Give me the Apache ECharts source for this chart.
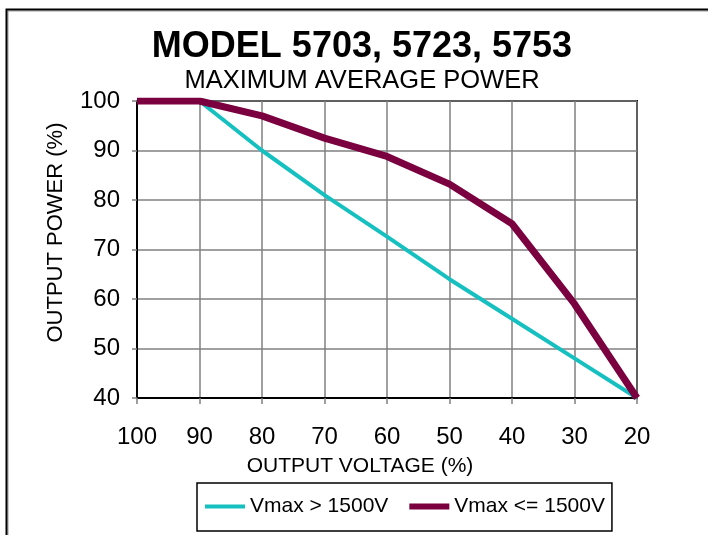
<!DOCTYPE html>
<html>
<head>
<meta charset="utf-8">
<script src="https://cdn.jsdelivr.net/npm/echarts@6/dist/echarts.min.js"></script>
<style>
  html, body { margin: 0; padding: 0; background: #fff; }
  #chart { width: 708px; height: 535px; }
</style>
</head>
<body>
<div id="chart"></div>
<script>
// output voltage (%) ticks, left to right
const voltageTicks = [100, 90, 80, 70, 60, 50, 40, 30, 20];
// Vmax > 1500V
const powerHigh = [100, 100, 90, 81, 72.6, 64, 56, 48, 40];
// Vmax <= 1500V
const powerLow = [100, 100, 97, 92.5, 88.8, 83.2, 75.2, 59, 40];

const seriesNames = ['Vmax > 1500V', 'Vmax <= 1500V'];
const font = 'Liberation Sans, Arial, sans-serif';

const chart = echarts.init(document.getElementById('chart'), null, { renderer: 'canvas' });

const pair = (vals) => voltageTicks.map((v, i) => [v, vals[i]]);

const option = {
  backgroundColor: '#fff',
  animation: false,
  title: {
    text: 'MODEL 5703, 5723, 5753',
    subtext: 'MAXIMUM AVERAGE POWER',
    left: 357,
    top: 24,
    textAlign: 'center',
    itemGap: 3,
    textStyle: { fontFamily: font, fontSize: 36, fontWeight: 'bold', color: '#000' },
    subtextStyle: { fontFamily: font, fontSize: 25.5, color: '#000' }
  },
  legend: {
    data: [
      { name: seriesNames[0], itemStyle: { opacity: 0 }, lineStyle: { width: 4, color: '#17c0c0' } },
      { name: seriesNames[1], itemStyle: { opacity: 0 }, lineStyle: { width: 6, color: '#7a0040' } }
    ],
    left: 197,
    top: 483,
    padding: [13, 7, 14, 6],
    itemGap: 18,
    itemWidth: 40,
    itemHeight: 14,
    borderColor: '#000',
    borderWidth: 1.5,
    textStyle: { fontFamily: font, fontSize: 21, color: '#000' }
  },
  grid: {
    left: 137,
    right: 71,
    top: 101,
    height: 297,
    show: true,
    borderColor: '#000',
    borderWidth: 2
  },
  xAxis: {
    type: 'value',
    inverse: true,
    min: 20,
    max: 100,
    interval: 10,
    name: 'OUTPUT VOLTAGE (%)',
    nameLocation: 'middle',
    nameGap: 58,
    nameTextStyle: { fontFamily: font, fontSize: 21, color: '#000', padding: [0, 54, 0, 0] },
    axisLine: { lineStyle: { color: '#000', width: 2 } },
    axisTick: { show: true, length: 6, lineStyle: { color: '#808080', width: 1.5 } },
    axisLabel: { fontFamily: font, fontSize: 24, color: '#000', margin: 27 },
    splitLine: { lineStyle: { color: '#808080', width: 1.5 } }
  },
  yAxis: {
    type: 'value',
    min: 40,
    max: 100,
    interval: 10,
    name: 'OUTPUT POWER (%)',
    nameLocation: 'middle',
    nameGap: 70,
    nameTextStyle: { fontFamily: font, fontSize: 22, color: '#000', padding: [0, 0, 0, 34] },
    axisLine: { lineStyle: { color: '#000', width: 2 } },
    axisTick: { show: true, length: 5, lineStyle: { color: '#808080', width: 1.5 } },
    axisLabel: { fontFamily: font, fontSize: 24, color: '#000', margin: 17 },
    splitLine: { lineStyle: { color: '#808080', width: 1.5 } }
  },
  series: [
    {
      name: seriesNames[0],
      type: 'line',
      symbol: 'none',
      data: pair(powerHigh),
      lineStyle: { color: '#17c0c0', width: 4 },
      itemStyle: { color: '#17c0c0' }
    },
    {
      name: seriesNames[1],
      type: 'line',
      symbol: 'none',
      data: pair(powerLow),
      lineStyle: { color: '#7a0040', width: 7 },
      itemStyle: { color: '#7a0040' }
    }
  ],
  graphic: [
    // page frame (top and left edges)
    { type: 'polyline', silent: true, shape: { points: [[8, 535], [8, 11], [708, 11]] },
      style: { stroke: '#999', lineWidth: 1, fill: null } },
    { type: 'polyline', silent: true, shape: { points: [[6.5, 535], [6.5, 9.5], [708, 9.5]] },
      style: { stroke: '#000', lineWidth: 2, fill: null } }
  ]
};

chart.setOption(option);
</script>
</body>
</html>
